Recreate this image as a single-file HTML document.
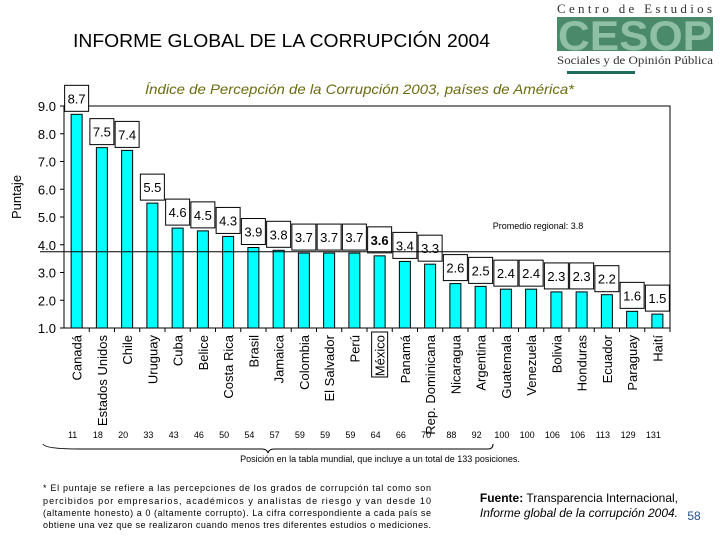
<!DOCTYPE html>
<html><head><meta charset="utf-8"><style>
body{margin:0;width:720px;height:540px;background:#fff;overflow:hidden;font-family:"Liberation Sans",Arial,sans-serif;}
svg{position:absolute;left:0;top:0}
</style></head><body>
<svg width="720" height="540">
<g>
<text x="557" y="13" font-family="Liberation Serif" font-size="13" fill="#333" textLength="155" lengthAdjust="spacing">Centro de Estudios</text>
<rect x="557" y="17" width="156" height="34" fill="#4a8a6a"/>
<text x="558" y="50" font-family="Liberation Sans" font-weight="bold" font-size="42" fill="#8fbfa5" textLength="154" lengthAdjust="spacingAndGlyphs">CESOP</text>
<text x="557" y="64" font-family="Liberation Serif" font-size="12" fill="#333" textLength="156" lengthAdjust="spacingAndGlyphs">Sociales y de Opinión Pública</text>
<rect x="567" y="71" width="68" height="3" fill="#1f6b5c"/>
</g>
<text x="73" y="47" font-size="18" textLength="417" lengthAdjust="spacingAndGlyphs" fill="#000">INFORME GLOBAL DE LA CORRUPCIÓN 2004</text>
<text x="145" y="94" font-size="14" font-style="italic" textLength="429" lengthAdjust="spacingAndGlyphs" fill="#6b6b10">Índice de Percepción de la Corrupción 2003, países de América*</text>
<text transform="translate(21,197) rotate(-90)" font-size="13" text-anchor="middle">Puntaje</text>
<g id="plot"></g>
<text x="538" y="229" font-size="9" text-anchor="middle">Promedio regional: 3.8</text>
<path d="M43,444 Q45,449 80,449 L262,449 Q267,449 268,453 Q269,449 274,449 L488,449 Q493,449 493,444" fill="none" stroke="#000" stroke-width="1"/>
<text x="380" y="462" font-size="9" text-anchor="middle">Posición en la tabla mundial, que incluye a un total de 133 posiciones.</text>
<g font-size="9" fill="#000">
<text x="43" y="491" textLength="388" lengthAdjust="spacing">* El puntaje se refiere a las percepciones de los grados de corrupción tal como son</text>
<text x="43" y="504" textLength="388" lengthAdjust="spacing">percibidos por empresarios, académicos y analistas de riesgo y van desde 10</text>
<text x="43" y="516" textLength="388" lengthAdjust="spacing">(altamente honesto) a 0 (altamente corrupto). La cifra correspondiente a cada país se</text>
<text x="43" y="528" textLength="388" lengthAdjust="spacing">obtiene una vez que se realizaron cuando menos tres diferentes estudios o mediciones.</text>
</g>
<text x="678" y="502" font-size="12" text-anchor="end"><tspan font-weight="bold">Fuente:</tspan> Transparencia Internacional,</text>
<text x="678" y="517" font-size="12" font-style="italic" text-anchor="end">Informe global de la corrupción 2004.</text>
<text x="694" y="520" font-size="12" fill="#1f4f8f" text-anchor="middle">58</text>
</svg>
<script>
const countries=["Canadá","Estados Unidos","Chile","Uruguay","Cuba","Belice","Costa Rica","Brasil","Jamaica","Colombia","El Salvador","Perú","México","Panamá","Rep. Dominicana","Nicaragua","Argentina","Guatemala","Venezuela","Bolivia","Honduras","Ecuador","Paraguay","Haití"];
const scores=[8.7,7.5,7.4,5.5,4.6,4.5,4.3,3.9,3.8,3.7,3.7,3.7,3.6,3.4,3.3,2.6,2.5,2.4,2.4,2.3,2.3,2.2,1.6,1.5];
const ranks=[11,18,20,33,43,46,50,54,57,59,59,59,64,66,70,88,92,100,100,106,106,113,129,131];
const yTicks=[1,2,3,4,5,6,7,8,9];
const average=3.75;
const NS="http://www.w3.org/2000/svg";
const X0=64,X1=670,Y0=328,Ytop=106;
const bw=(X1-X0)/countries.length;
const y=v=>Y0-(v-1)*(Y0-Ytop)/8;
const x=i=>X0+bw*(i+0.5);
const g=document.getElementById('plot');
function mk(t,a,p){const e=document.createElementNS(NS,t);for(const k in a)e.setAttribute(k,a[k]);(p||g).appendChild(e);return e;}
let e=mk('path',{d:`M${X0},${Ytop} L${X1},${Ytop} L${X1},${Y0}`,fill:'none',stroke:'#000','stroke-width':1});


e=mk('line',{x1:X0,y1:Ytop,x2:X0,y2:Y0,stroke:'#000'});


e=mk('line',{x1:X0,y1:Y0,x2:X1,y2:Y0,stroke:'#000'});


yTicks.forEach(v=>{
 let t=mk('line',{x1:X0-4,y1:y(v),x2:X0,y2:y(v),stroke:'#000'});
 
 
 let l=mk('text',{x:X0-8,y:y(v)+5,'font-size':13,'text-anchor':'end'});l.textContent=v.toFixed(1);
 
 
});
countries.forEach((c,i)=>{
 const cx=x(i);
 let t=mk('line',{x1:X0+bw*(i+1),y1:Y0,x2:X0+bw*(i+1),y2:Y0+4,stroke:'#000'});
 
 
 let b=mk('rect',{x:cx-5.5,y:y(scores[i]),width:11,height:Y0-y(scores[i]),fill:'#00ffff',stroke:'#000','stroke-width':1});
 
 
 const by=y(scores[i])-29;
 let bx=mk('rect',{x:cx-12,y:by,width:24,height:26,fill:'#fff',stroke:'#000','stroke-width':1});
 
 
 let vt=mk('text',{x:cx,y:by+18,'font-size':13,'text-anchor':'middle','font-weight':c==='México'?'bold':'normal'});vt.textContent=scores[i].toFixed(1);
 
 
 let xl=mk('text',{transform:`translate(${cx+5},335) rotate(-90)`,'font-size':13,'text-anchor':'end'});xl.textContent=c;
 
 
 if(c==='México'){let r=mk('rect',{x:cx-8,y:332,width:16,height:45,fill:'none',stroke:'#000'});
  
  }
 let rt=mk('text',{x:cx-4,y:438,'font-size':9,'text-anchor':'middle'});rt.textContent=ranks[i];
 
 
});
e=mk('line',{x1:40,y1:y(average),x2:X1,y2:y(average),stroke:'#000','stroke-width':1});


</script>
</body></html>
